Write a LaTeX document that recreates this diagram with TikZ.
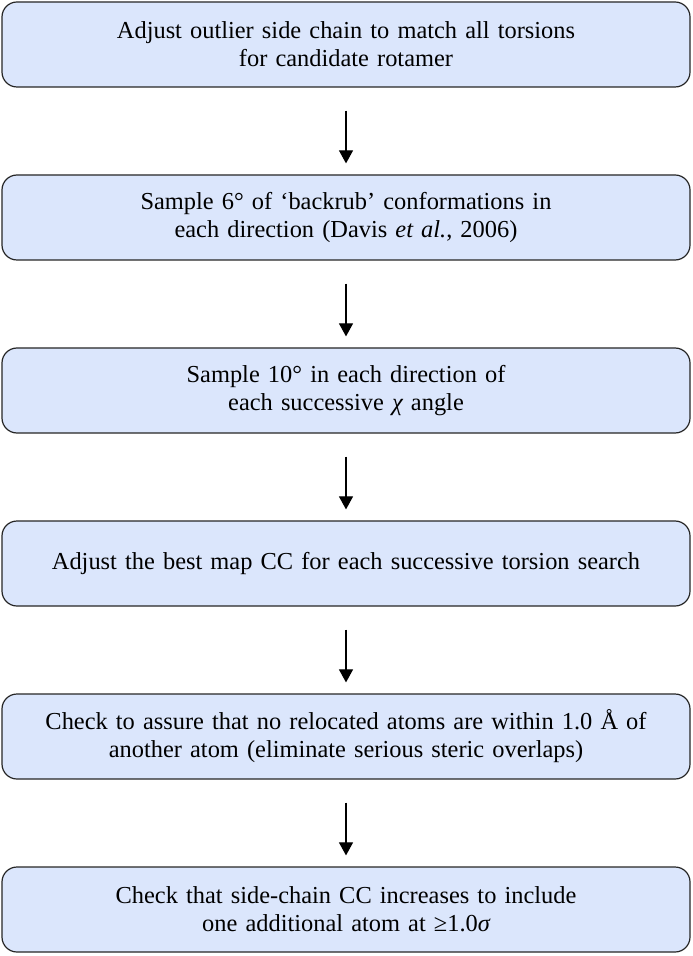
\documentclass[tikz,border=0pt]{standalone}
\usepackage{fontspec}
\setmainfont[WordSpace=0.85]{Liberation Serif}
\usetikzlibrary{arrows.meta, positioning}
\definecolor{boxblue}{RGB}{219,230,252}

\begin{document}
\begin{tikzpicture}
\tikzset{stage/.style={rectangle, align=center, minimum width=344pt, minimum height=42.5pt, text width=336pt, fill=boxblue, draw=black!85, line width=0.6pt, rounded corners=7.5pt, font=\fontsize{12.2}{14}\selectfont},
		flow/.style={-{Triangle[width=7pt,length=6.5pt]}, line width=0.55pt, shorten <=11.5pt, shorten >=5.5pt}}
\useasboundingbox (0,0) rectangle (346pt,-478pt);
\node[stage] (adjust) at (173pt,-22.25pt) {Adjust outlier side chain to match all torsions\\for candidate rotamer};
\node[stage, below=43.4pt of adjust] (backrub) {Sample 6° of ‘backrub’ conformations in\\each direction (Davis \textit{et al.}, 2006)};
\node[stage, below=43.4pt of backrub] (chi) {Sample 10° in each direction of\\each successive {\itshape χ} angle};
\node[stage, below=43.4pt of chi] (mapcc) {Adjust the best map CC for each successive torsion search};
\node[stage, below=43.4pt of mapcc] (steric) {Check to assure that no relocated atoms are within 1.0 Å of\\another atom (eliminate serious steric overlaps)};
\node[stage, below=43.4pt of steric] (sccc) {Check that side-chain CC increases to include\\one additional atom at ≥1.0{\itshape σ}};
\draw[flow] (adjust) -- (backrub);
\draw[flow] (backrub) -- (chi);
\draw[flow] (chi) -- (mapcc);
\draw[flow] (mapcc) -- (steric);
\draw[flow] (steric) -- (sccc);
\end{tikzpicture}
\end{document}
